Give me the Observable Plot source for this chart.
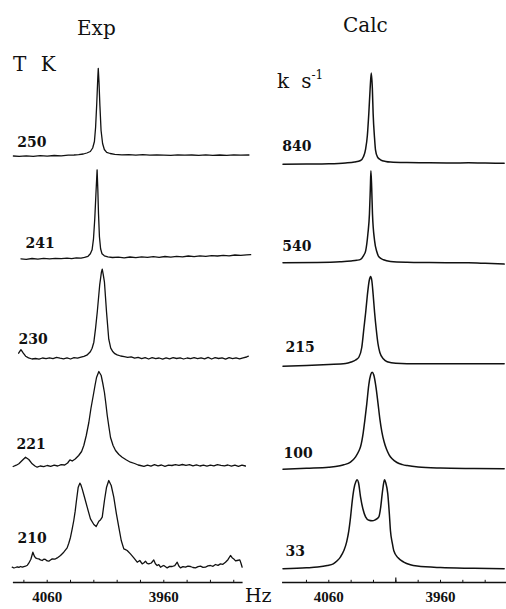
<!DOCTYPE html>
<html><head><meta charset="utf-8">
<script src="https://cdn.jsdelivr.net/npm/d3@7"></script>
<script src="https://cdn.jsdelivr.net/npm/@observablehq/plot@0.6"></script>
<style>
html,body{margin:0;padding:0;background:#fff;}
#wrap{position:relative;width:506px;height:609px;overflow:hidden;background:#fff;}
#wrap svg{position:absolute;left:0;top:0;}
.t{position:absolute;font-family:"DejaVu Serif",serif;font-size:20px;line-height:20px;color:#111;white-space:nowrap;}
</style></head><body>
<div id="wrap">
  <div class="t" style="left:77px;top:18px">Exp</div>
  <div class="t" style="left:343px;top:15px">Calc</div>
  <div class="t" style="left:13px;top:54px;letter-spacing:4px">T K</div>
  <div class="t" style="left:277px;top:65px">k<span style="margin-left:12px">s</span><sup style="font-size:12px;vertical-align:9px">-1</sup></div>
  <div class="t" style="left:245px;top:585px;font-size:19px">Hz</div>
</div>
<script>
// ---- data (Hz, intensity above each trace's baseline) ----
const expLabels = ["250", "241", "230", "221", "210"];   // T / K
const calcLabels = ["840", "540", "215", "100", "33"];   // k / s^-1
const tickLabels = [4060, 3960];
const tickMarksLeft = [4080, 4060, 4040, 4020, 4000, 3980, 3960, 3940, 3920, 3900];
const tickMarksRight = [4080, 4060, 4040, 4020, 4000, 3980, 3960, 3940, 3920];

const exp250 = [[4089,-0.5],[4084,-0.8],[4078,-0.3],[4072,-0.9],[4066,-0.2],[4060,-0.7],[4054,0],[4048,-0.4],[4042,0.3],[4037,0.5],[4033,0.9],[4029,1.5],[4026,2.5],[4023,4],[4021,7.5],[4019.5,14],[4018.5,28],[4017.5,52],[4016.6,78],[4016.2,87],[4015.6,74],[4014.8,50],[4013.8,25],[4012.5,12],[4011,6],[4009,3.2],[4006,2],[4002,1.2],[3996,0.6],[3990,0.9],[3984,0.4],[3978,0.8],[3972,0.3],[3966,0.7],[3960,0.4],[3954,0.2],[3948,0.6],[3942,0.3],[3936,0.5],[3930,0.1],[3924,0.6],[3918,0.2],[3912,0.5],[3906,0.1],[3900,0.7],[3894,0.3],[3887,0.5]];

const exp241 = [[4082.5,0],[4078,-0.6],[4073,0.3],[4068,-0.4],[4063,0.4],[4058,-0.1],[4053,0.5],[4048,0.1],[4043,0.7],[4039,0.2],[4035,0.9],[4031,0.7],[4028,1.4],[4025,2.5],[4023,5],[4021.5,9],[4020.3,20],[4019.2,40],[4018.2,65],[4017.2,89],[4016.6,70],[4016,45],[4015.2,22],[4014.2,10],[4013,5],[4011,3],[4008,2],[4004,1.3],[3999,1.6],[3994,1],[3989,1.8],[3984,1.2],[3979,2],[3974,1.4],[3969,2.1],[3964,1.5],[3959,2.3],[3954,1.7],[3949,2.5],[3944,1.9],[3939,2.8],[3934,2.2],[3929,3],[3924,2.5],[3919,3.2],[3914,2.8],[3909,3.5],[3904,3],[3899,3.8],[3894,3.4],[3889,4],[3885.5,4.2]];

const exp230 = [[4084.5,5],[4082.5,8.5],[4080.5,5],[4078.5,2],[4076,0.3],[4073,-0.8],[4070,-0.3],[4067,-1],[4064,0.2],[4061,-0.5],[4058,0.4],[4055,-0.4],[4052,0.8],[4049,0],[4046,-0.6],[4043,0.3],[4040,-0.8],[4037,0.5],[4034,0],[4031,1],[4028.5,1.8],[4026,3],[4023,6.5],[4021.5,10],[4020,16],[4018.5,30],[4017,47],[4015,73],[4013.5,86],[4012.8,89],[4012,84],[4010.9,76],[4009.1,46],[4007.2,19],[4005.5,10],[4004,7],[4002,4.5],[4000,3.3],[3997,2.2],[3994,1.5],[3991,0.8],[3988,1.3],[3985,0],[3982,0.8],[3979,-0.5],[3976,0.5],[3973,-0.8],[3970,0.6],[3967,-0.4],[3964,0.2],[3961,-1],[3958,0.3],[3955,-0.6],[3952,0.5],[3949,-0.3],[3946,0.3],[3943,-0.8],[3940,0.2],[3937,-0.5],[3934,0.6],[3931,-0.4],[3928,0.4],[3925,-0.6],[3922,0.8],[3919,-0.8],[3916,0.5],[3913,-0.3],[3910,0.3],[3907,-0.9],[3904,0.6],[3901,-0.5],[3898,0.3],[3895,-0.6],[3892,0.4],[3889,1.2],[3887.5,2]];

const exp221 = [[4089.2,-1],[4086.5,0.3],[4084.3,1.7],[4081.5,5],[4078.6,8.3],[4075.8,6],[4072.9,1.7],[4070.5,-0.5],[4068.6,-1.7],[4066,-0.5],[4063,-1.2],[4060,0],[4057,-0.8],[4054,0.3],[4051,-0.5],[4048,0.8],[4045,0.5],[4042.5,2.5],[4040.5,5.7],[4038.5,4.5],[4036,6.5],[4033,10],[4030.5,14],[4028.6,20],[4026.5,30],[4024.3,43],[4022.5,57],[4020.5,70],[4019,80],[4017.7,88],[4015.7,94],[4013.7,90],[4012.3,82],[4010.9,73],[4009.7,62],[4008.5,50],[4007,38],[4005.7,28],[4003.5,20],[4001.4,15],[3998.5,11],[3995.7,8.3],[3992,5.5],[3988.6,3.3],[3985,2],[3982,0.5],[3980,0],[3977,-0.8],[3974,0.4],[3971,-0.6],[3968,0.8],[3965,-0.3],[3962,0.5],[3959,-0.8],[3956,0.4],[3953,0],[3950,0.9],[3947,0.1],[3944,1],[3941,0.2],[3938,0.8],[3935,-0.3],[3932,0.6],[3929,-0.5],[3926,0.3],[3923,-0.6],[3920,0.4],[3917,-0.4],[3914,0.8],[3911,0.2],[3908,-0.3],[3905,0.5],[3902,-0.6],[3899,0.4],[3896,-0.8],[3893,0.3],[3890,-0.5]];

const exp210 = [[4090,0],[4088.5,-0.8],[4087.2,-0.3],[4085.6,0.4],[4084.3,-0.2],[4082.8,0.7],[4081.4,0],[4080,0.6],[4078.6,1],[4077,2],[4075.8,4],[4074,8],[4072.3,15],[4071,11],[4070,9.3],[4068.5,8.6],[4067.2,8.3],[4065.8,7.3],[4064.3,6.7],[4062.9,8],[4061.5,7.7],[4060,6.3],[4058.6,6],[4057.2,7.2],[4055.7,8.3],[4053.5,8],[4051.4,9.3],[4048.6,11.7],[4045.8,15],[4042.9,19.3],[4041.5,24],[4040,30],[4038.6,38],[4037.2,46.7],[4036,56],[4034.9,66.7],[4033.4,80],[4032,84],[4031,82],[4030,78.3],[4028,70],[4025.7,60],[4022.9,48.3],[4020,42.7],[4018,40.7],[4017,43],[4015.7,46],[4014.2,47.5],[4012.8,50],[4010.9,66.7],[4009.1,80],[4007.2,86.7],[4005.1,81.7],[4002.9,70],[4000.6,53],[3998.6,40],[3996.5,26.7],[3994.3,18.3],[3992.8,17.5],[3991.4,16.7],[3988.6,13.3],[3985.7,9.3],[3982.8,5],[3980.6,6.7],[3978.5,3.3],[3977,4.5],[3975.7,6],[3974.3,3.8],[3972.9,3.3],[3970.7,4.2],[3968.6,7.3],[3967.2,3.5],[3965.7,1.7],[3964.3,2.6],[3962.8,0],[3961.4,1],[3960,1.7],[3958.5,0.5],[3957.1,-0.7],[3955,0.8],[3952.8,0.7],[3950.6,1.5],[3948.5,5],[3947.1,1.2],[3945.7,-0.7],[3943.6,0.6],[3941.4,0],[3939.3,1.1],[3937.1,0.7],[3935,-0.3],[3932.8,-0.7],[3930.6,0.5],[3928.5,1],[3926.4,-0.2],[3924.3,0],[3922.2,1.3],[3920,1.7],[3917.8,0.9],[3915.7,2.7],[3913.5,1.8],[3911.4,3.3],[3909.3,2.9],[3907.1,5],[3905,7.5],[3902.8,11.7],[3901.4,9.5],[3900,8.3],[3898.5,6.3],[3897.1,6.7],[3894.8,7.3],[3893.8,4],[3892.8,0]];

const calc840 = [[4101,-0.5],[4080,-0.3],[4060,0],[4045,0.8],[4037,1.8],[4031.6,3.3],[4029,7],[4027,15],[4025.5,28],[4024.2,50],[4023,75],[4022,90.7],[4021,75],[4020.3,50],[4019,25],[4018.2,14],[4016.5,7],[4013.7,4],[4009,2.3],[4004.8,1.7],[3990,1.2],[3970,1],[3950,0.8],[3935,1],[3920,0.7],[3903,0.6]];

const calc540 = [[4101,0],[4070,0.3],[4050,1],[4040,1.8],[4035,2.5],[4031.6,3.5],[4029,7],[4027,12],[4025,29],[4023.6,49],[4022.8,75],[4022.3,92],[4021.6,75],[4020.9,49],[4019,22],[4017,11],[4015.2,6],[4011,3],[4004.8,1.3],[3990,0.5],[3970,0.2],[3950,0],[3935,0],[3920,-0.5],[3903,-1.3]];

const calc215 = [[4101,-1.7],[4080,-1],[4060,0],[4045,1],[4040,2.5],[4036,4.5],[4033,7.5],[4030.5,17],[4028.5,37],[4027,52],[4025.6,68],[4023.8,84],[4022.6,88],[4021.5,84],[4020.3,70],[4019,52],[4017.5,35],[4016,21],[4014.3,12],[4011,5.5],[4007.7,2.8],[4000,1.2],[3980,0.7],[3960,0.7],[3930,0.7],[3903,0.7]];

const calc100 = [[4101,-0.5],[4080,0.5],[4060,1.5],[4050,3],[4046.6,4],[4040.6,6.7],[4036,12],[4033,18],[4031.6,22],[4029.2,36],[4027.8,48],[4026,65],[4024.2,84],[4022.5,94],[4021.2,96.6],[4019.8,94],[4017.8,82],[4016,66],[4014.3,50],[4012.5,37],[4010.5,27],[4008.3,19.5],[4006,14],[4003.3,10],[3999,6.3],[3994,4.2],[3989.8,3.2],[3980,1.8],[3960,0.8],[3930,0.3],[3903,0]];

const calc33 = [[4101,0],[4080,1],[4070,1.8],[4061.4,3.3],[4056,5],[4052.5,8],[4049.5,12],[4046.6,18],[4044,27],[4042.1,38],[4040.5,52],[4039,68],[4037.5,80],[4035.8,87],[4034.6,89],[4033.4,86],[4031.6,72],[4029.5,60],[4027.1,52],[4024,48.5],[4021.2,48],[4018.5,49],[4015.2,52],[4013.5,62],[4012.2,75],[4011,85],[4010.1,89],[4009,86],[4007.2,75],[4005.8,55],[4004.8,38],[4003.2,26],[4001.8,18],[3998,11],[3992.9,6.7],[3987,4],[3980.9,2.7],[3960,1.2],[3930,0.5],[3903,0]];

const expTraces = [exp250, exp241, exp230, exp221, exp210];
const calcTraces = [calc840, calc540, calc215, calc100, calc33];

// ---- layout (page px converted to the y units used by both panels) ----
const W = 506, H = 609, AXIS = 582;
const expBase = [427, 323.7, 224.3, 117, 15.3];
const calcBase = [418.7, 319.7, 218, 113.7, 13.7];
const expLabelPos = [[4085.7, 440.3], [4078.6, 339], [4084.6, 243.3], [4086.3, 138], [4085.5, 44.3]];
const calcLabelPos = [[4101.7, 436], [4101.7, 336], [4098.8, 235], [4100.6, 129], [4098.8, 31]];

function panel({traces, bases, labels, labelPos, ticks, bigTick, xdom, xrange, axisSpan, strokeWidth, curve}) {
  const marks = [];
  traces.forEach((tr, i) => {
    marks.push(Plot.line(tr, {x: d => d[0], y: d => d[1] + bases[i], stroke: "#111", strokeWidth, curve, strokeLinejoin: "round"}));
  });
  marks.push(Plot.text(labels, {
    x: (d, i) => labelPos[i][0], y: (d, i) => labelPos[i][1], text: d => d,
    textAnchor: "start", fontFamily: "DejaVu Serif", fontWeight: "bold", fontSize: 14, fill: "#111"
  }));
  marks.push(Plot.ruleY([0], {x1: axisSpan[0], x2: axisSpan[1], stroke: "#111", strokeWidth: 1.5}));
  marks.push(Plot.ruleX(ticks, {x: d => d, y1: 0, y2: 2.2, stroke: "#111", strokeWidth: 1}));
  if (bigTick) marks.push(Plot.ruleX([bigTick], {x: d => d, y1: 0, y2: 4.5, stroke: "#111", strokeWidth: 1.2}));
  marks.push(Plot.text(tickLabels, {
    x: d => d, y: -15, text: d => String(d),
    fontFamily: "Liberation Serif", fontWeight: "bold", fontSize: 15, fill: "#111"
  }));
  return Plot.plot({
    width: W, height: H,
    marginTop: 0, marginBottom: H - AXIS, marginLeft: 0, marginRight: 0,
    x: {domain: xdom, range: xrange, axis: null},
    y: {domain: [0, AXIS], range: [AXIS, 0], axis: null},
    style: {background: "transparent", overflow: "visible"},
    marks
  });
}

// left: 4060 Hz at 46.7 px, 1.166 px/Hz ; right: 4060 Hz at 328.3 px, 1.117 px/Hz
const left = panel({
  traces: expTraces, bases: expBase, labels: expLabels, labelPos: expLabelPos,
  ticks: tickMarksLeft, bigTick: null,
  xdom: [4090, 3880], xrange: [46.7 - 30 * 1.166, 46.7 + 180 * 1.166],
  axisSpan: [4089, 3892], strokeWidth: 1.3, curve: "linear"
});
const right = panel({
  traces: calcTraces, bases: calcBase, labels: calcLabels, labelPos: calcLabelPos,
  ticks: tickMarksRight, bigTick: 4000,
  xdom: [4105, 3895], xrange: [328.3 - 45 * 1.117, 328.3 + 165 * 1.117],
  axisSpan: [4101.4, 3900.5], strokeWidth: 1.5, curve: "monotone-x"
});
const wrap = document.getElementById("wrap");
wrap.insertBefore(right, wrap.firstChild);
wrap.insertBefore(left, wrap.firstChild);
</script>
</body></html>
